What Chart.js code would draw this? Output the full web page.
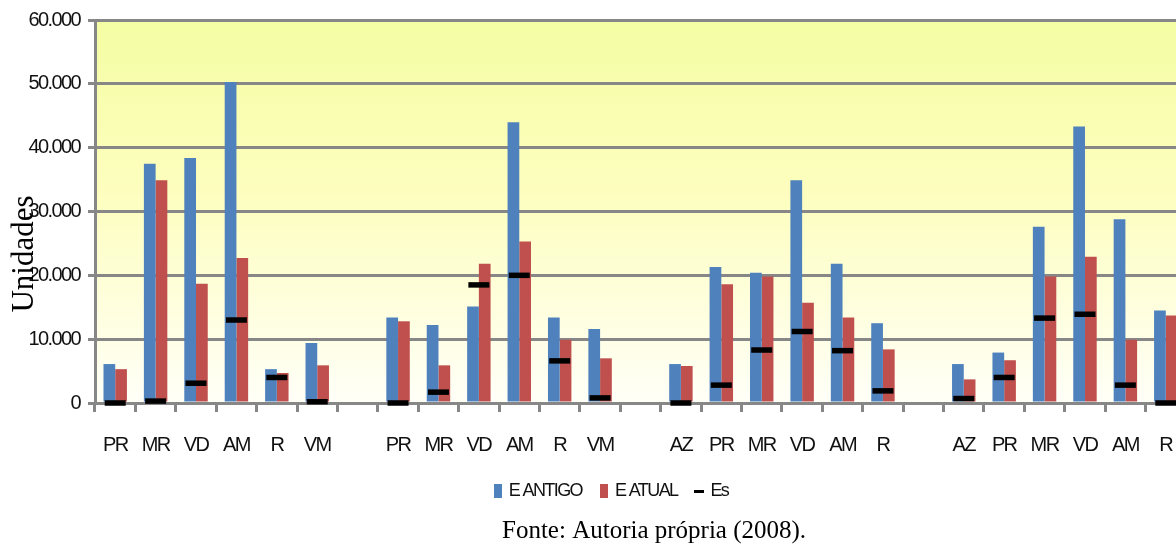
<!DOCTYPE html>
<html>
<head>
<meta charset="utf-8">
<script src="https://cdn.jsdelivr.net/npm/chart.js@4.4.1/dist/chart.umd.min.js"></script>
<style>
  html, body { margin: 0; padding: 0; width: 1176px; height: 544px; overflow: hidden; background: #fff; }
  #wrap { position: relative; width: 1202px; height: 544px; }
</style>
</head>
<body>
<div id="wrap"><canvas id="c" width="1202" height="544"></canvas></div>
<script>
// Categories (empty strings are spacers between the four groups)
const categories = ['PR','MR','VD','AM','R','VM','',
                    'PR','MR','VD','AM','R','VM','',
                    'AZ','PR','MR','VD','AM','R','',
                    'AZ','PR','MR','VD','AM','R'];

// E ANTIGO
const eAntigo = [6100, 37500, 38400, 50300, 5300, 9400, null,
                 13400, 12200, 15100, 44000, 13400, 11600, null,
                 6100, 21300, 20400, 34900, 21800, 12500, null,
                 6100, 7900, 27600, 43300, 28800, 14500];

// E ATUAL
const eAtual = [5300, 34900, 18700, 22700, 4700, 5900, null,
                12800, 5900, 21800, 25300, 9900, 7000, null,
                5800, 18600, 19800, 15700, 13400, 8400, null,
                3700, 6700, 19800, 22900, 9900, 13700];

// Es
const es = [0, 300, 3100, 13000, 4000, 200, null,
            0, 1700, 18500, 20000, 6600, 800, null,
            0, 2800, 8300, 11200, 8200, 1900, null,
            700, 4000, 13300, 13900, 2800, 0];

const yTicks = [0, 10000, 20000, 30000, 40000, 50000, 60000];
const seriesNames = ['E ANTIGO', 'E ATUAL', 'Es'];

const colors = { antigo: '#4f81bd', atual: '#c0504d', es: '#000000', grid: '#878787' };
const sans = "'Liberation Sans', Arial, sans-serif";
const serif = "'Liberation Serif', 'Times New Roman', serif";

function fmt(v) { return String(v).replace(/\B(?=(\d{3})+(?!\d))/g, '.'); }

function swatch(w, h, color) {
  const cv = document.createElement('canvas');
  cv.width = w; cv.height = h;
  const g = cv.getContext('2d');
  g.fillStyle = color; g.fillRect(0, 0, w, h);
  return cv;
}
const icons = [swatch(8, 14, colors.antigo), swatch(8, 14, colors.atual), swatch(10, 3, colors.es)];

// Tighter letter spacing for the narrow-looking axis and legend text
const tight = {
  id: 'tight',
  beforeLayout(chart) { chart.ctx.letterSpacing = '-1.6px'; },
  afterLayout(chart) {
    // nudge the legend row to the right
    chart.legend.left += 12;
    chart.legend.right += 12;
  },
  beforeDraw(chart) { chart.ctx.letterSpacing = '-1.6px'; }
};

// Yellow gradient behind the plot area
const plotBackground = {
  id: 'plotBackground',
  beforeDraw(chart) {
    const { ctx, chartArea: a } = chart;
    const g = ctx.createLinearGradient(0, a.top, 0, a.bottom);
    g.addColorStop(0, '#f4fda3');
    g.addColorStop(0.45, '#fdfebe');
    g.addColorStop(1, '#fffff8');
    ctx.save();
    ctx.fillStyle = g;
    ctx.fillRect(a.left, a.top, a.right - a.left, a.bottom - a.top);
    ctx.restore();
  }
};

// Axis title and source note
const extraText = {
  id: 'extraText',
  afterDraw(chart) {
    const { ctx } = chart;
    ctx.save();
    ctx.letterSpacing = '0px';
    ctx.fillStyle = '#000';
    ctx.font = '31px ' + serif;
    ctx.translate(33, 254);
    ctx.rotate(-Math.PI / 2);
    ctx.textAlign = 'center';
    ctx.textBaseline = 'alphabetic';
    ctx.fillText('Unidades', 0, 0);
    ctx.restore();

    ctx.save();
    ctx.letterSpacing = '0px';
    ctx.fillStyle = '#000';
    ctx.font = '25px ' + serif;
    ctx.textAlign = 'left';
    ctx.textBaseline = 'alphabetic';
    ctx.fillText('Fonte: Autoria própria (2008).', 502, 538);
    ctx.restore();
  }
};

new Chart(document.getElementById('c'), {
  type: 'bar',
  data: {
    labels: categories,
    datasets: [
      { label: seriesNames[0], data: eAntigo, backgroundColor: colors.antigo, borderWidth: 0, order: 1 },
      { label: seriesNames[1], data: eAtual, backgroundColor: colors.atual, borderWidth: 0, order: 1 },
      { type: 'line', label: seriesNames[2], data: es, showLine: false, order: -1, clip: false,
        pointStyle: 'line', pointRadius: 10.5, pointBorderWidth: 5.5,
        borderColor: colors.es, backgroundColor: colors.es, pointHoverRadius: 10.5 }
    ]
  },
  options: {
    responsive: false,
    animation: false,
    events: [],
    layout: { padding: { left: 0, right: 2, top: 14, bottom: 34 } },
    datasets: { bar: { categoryPercentage: 0.58, barPercentage: 1.0 } },
    scales: {
      x: {
        offset: true,
        afterFit(scale) { scale.height = 59; },
        grid: { drawOnChartArea: false, drawTicks: true, tickLength: 9, offset: true, color: colors.grid, lineWidth: 3 },
        border: { display: true, color: colors.grid, width: 3 },
        ticks: { color: '#111', font: { family: sans, size: 20 }, padding: 21, maxRotation: 0, autoSkip: false }
      },
      y: {
        min: 0, max: 60000,
        afterBuildTicks(scale) { scale.ticks = yTicks.map(v => ({ value: v })); },
        afterFit(scale) { scale.width = 95; },
        grid: { color: colors.grid, lineWidth: 3, tickLength: 7, drawTicks: true },
        border: { display: true, color: colors.grid, width: 3 },
        ticks: { color: '#111', font: { family: sans, size: 20 }, padding: 8, callback: v => fmt(v) }
      }
    },
    plugins: {
      tooltip: { enabled: false },
      legend: {
        position: 'bottom',
        labels: {
          usePointStyle: true,
          boxWidth: 4,
          padding: 20,
          color: '#111',
          font: { family: sans, size: 18 },
          generateLabels() {
            return seriesNames.map((n, i) => ({ text: n, pointStyle: icons[i], fontColor: '#111', lineWidth: 0, hidden: false, datasetIndex: i }));
          }
        }
      }
    }
  },
  plugins: [tight, plotBackground, extraText]
});
</script>
</body>
</html>
